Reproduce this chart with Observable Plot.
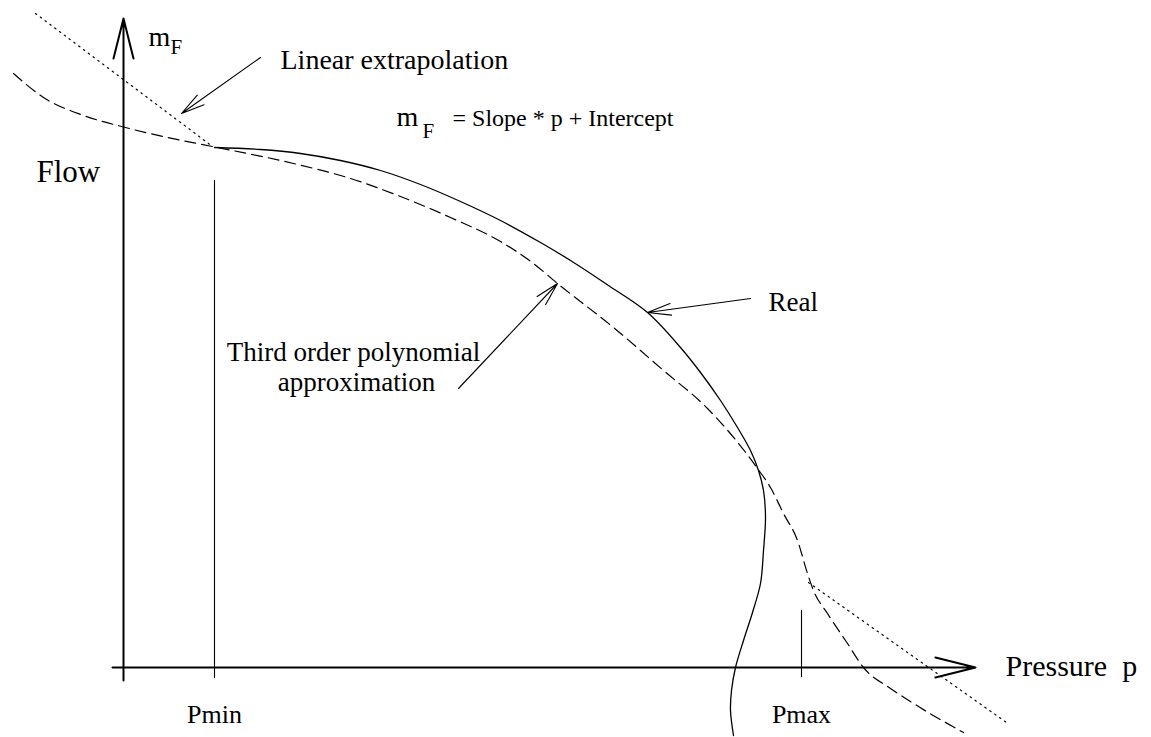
<!DOCTYPE html>
<html><head><meta charset="utf-8">
<script src="https://cdn.jsdelivr.net/npm/d3@7"></script>
<script src="https://cdn.jsdelivr.net/npm/@observablehq/plot@0.6"></script>
<style>body{margin:0;background:#fff}#chart svg{display:block}</style>
</head><body><div id="chart"></div>
<script>
// Schematic data: pressure p (x) and flow m_F (y), origin at the axes crossing
const realP    = [91,137,177,217,257,297,337,377,417,447,485,524,557,577,597,614,627,635,640,642,640,637,629,620,612,608,607,610];
const realFlow = [520,518,514,507,497,483,466,447,425,407,382,355,320,295,267,240,217,197,177,150,117,84,55,27,0,-23,-43,-68];

const polyP    = [-110,-80,-40,2,44,89,170,227,277,327,377,410,434,490,540,584,634,647,660,674,684,690,704,724,740,767,790,840];
const polyFlow = [594,570,552,540,530,521,504,489,471,450,426,404,384,340,297,259,199,180,154,127,94,77,54,24,0,-21,-36,-65];

const extrapLowP = [-88, 89],  extrapLowFlow = [654, 521];
const extrapHighP = [685, 883], extrapHighFlow = [85, -55];

const pMin = 91, pMax = 678;

const real = realP.map((p, i) => ({p, f: realFlow[i]}));
const poly = polyP.map((p, i) => ({p, f: polyFlow[i]}));
const extrap = [
  ...extrapLowP.map((p, i) => ({p, f: extrapLowFlow[i], s: "low"})),
  ...extrapHighP.map((p, i) => ({p, f: extrapHighFlow[i], s: "high"}))
];

const axesArrows = [
  {x1: 0, y1: -13, x2: 0, y2: 649},
  {x1: -11, y1: 0, x2: 852, y2: 0}
];
const markerLines = [
  {x: pMin, y1: -11, y2: 487},
  {x: pMax, y1: -10, y2: 57}
];
const pointers = [
  {x1: 137, y1: 610, x2: 58, y2: 554},   // Linear extrapolation
  {x1: 335, y1: 279, x2: 434, y2: 384},  // Third order polynomial
  {x1: 627, y1: 369, x2: 524, y2: 355}   // Real
];
const labels = [
  {text: "m", x: 25, y: 622, size: 28, anchor: "start"},
  {text: "F", x: 47, y: 614, size: 21, anchor: "start"},
  {text: "Linear extrapolation", x: 157, y: 599, size: 28, anchor: "start"},
  {text: "m", x: 273, y: 542, size: 28, anchor: "start"},
  {text: "F", x: 299, y: 530, size: 21, anchor: "start"},
  {text: "= Slope * p + Intercept", x: 329, y: 542, size: 24, anchor: "start"},
  {text: "Flow", x: -87, y: 486, size: 31, anchor: "start"},
  {text: "Real", x: 645, y: 357, size: 27, anchor: "start"},
  {text: "Third order polynomial", x: 230, y: 307, size: 27, anchor: "middle"},
  {text: "approximation", x: 233, y: 277, size: 27, anchor: "middle"},
  {text: "Pressure\u00a0\u00a0p", x: 882, y: -8, size: 30, anchor: "start"},
  {text: "Pmin", x: pMin, y: -55, size: 26, anchor: "middle"},
  {text: "Pmax", x: pMax, y: -55, size: 26, anchor: "middle"}
];

const textMarks = labels.map(l => Plot.text([l], {
  x: "x", y: "y", text: "text", fontSize: l.size, textAnchor: l.anchor,
  lineAnchor: "bottom", fill: "black", fontFamily: "Liberation Serif, Times New Roman, serif"
}));

const chart = Plot.plot({
  width: 1151, height: 737, margin: 0,
  x: {domain: [-123, 1028], axis: null},
  y: {domain: [-70, 667], axis: null},
  style: {background: "white"},
  marks: [
    Plot.arrow(axesArrows, {x1: "x1", y1: "y1", x2: "x2", y2: "y2", stroke: "black", strokeWidth: 2, headLength: 31, headAngle: 28}),
    Plot.ruleX(markerLines, {x: "x", y1: "y1", y2: "y2", stroke: "black", strokeWidth: 1.1}),
    Plot.line(extrap, {x: "p", y: "f", z: "s", stroke: "black", strokeWidth: 1.2, strokeDasharray: "1.5,4.5"}),
    Plot.line(poly, {x: "p", y: "f", curve: "monotone-x", stroke: "black", strokeWidth: 1.2, strokeDasharray: "11,6"}),
    Plot.line(real, {x: "p", y: "f", curve: "catmull-rom", stroke: "black", strokeWidth: 1.3}),
    Plot.arrow(pointers, {x1: "x1", y1: "y1", x2: "x2", y2: "y2", stroke: "black", strokeWidth: 1.1, headLength: 33, headAngle: 28}),
    ...textMarks
  ]
});
document.getElementById("chart").append(chart);
</script>
</body></html>
